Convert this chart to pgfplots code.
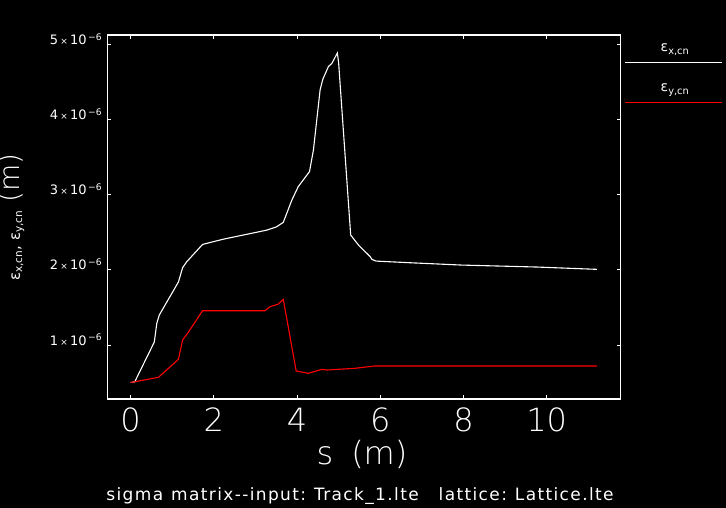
\documentclass[border=0pt]{standalone}
\usepackage{pgfplots}
\pgfplotsset{compat=1.18}
\usepackage{fontspec}
\setmainfont{DejaVu Sans}
\IfFontExistsTF{DejaVu Sans ExtraLight}{\newfontfamily\thinfont{DejaVu Sans ExtraLight}}{\newfontfamily\thinfont{Liberation Sans}}
\newfontfamily\widefont[LetterSpace=8]{DejaVu Sans}
\begin{document}
\begin{tikzpicture}[x=1pt,y=1pt]
\fill[black] (0,0) rectangle (726,508);
\useasboundingbox (0,0) rectangle (726,508);
\begin{axis}[
  at={(107.3pt,109pt)}, anchor=south west,
  scale only axis, width=513.4pt, height=364pt,
  xmin=-0.56, xmax=11.78, ymin=0.281, ymax=5.13,
  axis line style={white, line width=1.1pt},
  tick style={white, line width=1pt},
  tick align=inside, major tick length=4pt,
  /pgf/number format/assume math mode=true,
  xtick={0,2,4,6,8,10},
  ytick={1,2,3,4,5},
  yticklabels={1\,{\fontsize{9}{9}\selectfont×}\,10\textsuperscript{\,−6},
               2\,{\fontsize{9}{9}\selectfont×}\,10\textsuperscript{\,−6},
               3\,{\fontsize{9}{9}\selectfont×}\,10\textsuperscript{\,−6},
               4\,{\fontsize{9}{9}\selectfont×}\,10\textsuperscript{\,−6},
               5\,{\fontsize{9}{9}\selectfont×}\,10\textsuperscript{\,−6}},
  xticklabel style={white, font=\thinfont\fontsize{32}{32}\selectfont, anchor=north, inner sep=0pt, yshift=-9pt},
  yticklabel style={white, font=\fontsize{13}{13}\selectfont, anchor=base east, inner sep=0pt, xshift=-5pt},
]
\addplot[white, line width=1.1pt] coordinates {
(0,0.50) (0.10,0.51) (0.57,1.04) (0.63,1.29) (0.69,1.40) (1.15,1.84) (1.25,2.03)
(1.35,2.11) (1.73,2.34) (2.23,2.41) (3.27,2.53) (3.51,2.575) (3.67,2.634)
(3.875,2.93) (4.03,3.11) (4.30,3.31) (4.395,3.60) (4.555,4.40) (4.62,4.54)
(4.755,4.71) (4.836,4.75) (4.97,4.89) (5.00,4.76) (5.29,2.465) (5.48,2.33)
(5.76,2.176) (5.80,2.141) (5.90,2.118) (6.72,2.096) (7.96,2.065) (9.76,2.039) (11.21,2.008)
};
\addplot[red, line width=1.1pt] coordinates {
(0,0.50) (0.10,0.51) (0.67,0.57) (1.15,0.81) (1.25,1.067) (1.37,1.156) (1.73,1.457)
(3.23,1.457) (3.35,1.51) (3.55,1.546) (3.67,1.608) (3.98,0.654) (4.27,0.623)
(4.60,0.676) (4.72,0.667) (5.40,0.69) (5.85,0.72) (11.21,0.72)
};
\end{axis}
% y label
\node[rotate=90, anchor=base, white, inner sep=0pt] at (20,291)
  {\fontsize{15}{15}\selectfont ε\textsubscript{x,cn}, ε\textsubscript{y,cn}\hspace{8pt}{\thinfont\fontsize{28}{28}\selectfont (m)}};
% x label
\node[anchor=base, white, inner sep=0pt] at (362,43)
  {\thinfont\fontsize{32}{32}\selectfont s\hspace{18pt}(m)};
% subtitle
\node[anchor=base, white, inner sep=0pt] at (360,7.3)
  {\widefont\fontsize{17}{17}\selectfont sigma\hspace{8pt}matrix-{}-input:\hspace{8pt}Track\_1.lte\hspace{20pt}lattice:\hspace{8pt}Lattice.lte};
% legend
\node[anchor=base, white, inner sep=0pt] at (675,456) {\fontsize{14}{14}\selectfont ε\textsubscript{x,cn}};
\draw[white, line width=1.1pt] (625,445.7) -- (722,445.7);
\node[anchor=base, white, inner sep=0pt] at (675,416) {\fontsize{14}{14}\selectfont ε\textsubscript{y,cn}};
\draw[red, line width=1.1pt] (625,405.7) -- (722,405.7);
\end{tikzpicture}
\end{document}
